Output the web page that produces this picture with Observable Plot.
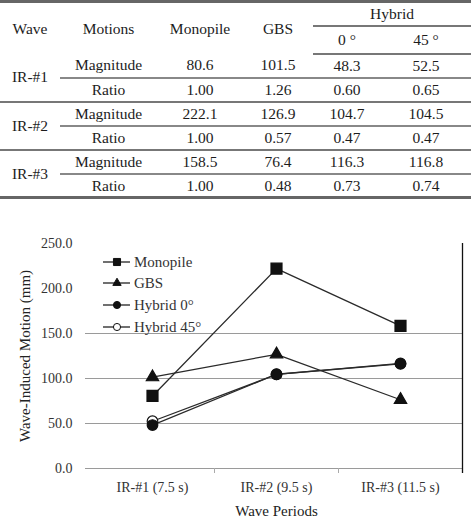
<!DOCTYPE html>
<html><head><meta charset="utf-8">
<script src="https://cdn.jsdelivr.net/npm/d3@7"></script>
<script src="https://cdn.jsdelivr.net/npm/@observablehq/plot@0.6"></script>
<style>
body{margin:0;background:#fff;width:471px;height:525px;position:relative;overflow:hidden}
#tbl{position:absolute;left:0;top:0}
table{border-collapse:collapse;table-layout:fixed;width:471px;font-family:"Liberation Serif",serif;font-size:15.5px;color:#1c1c1c}
td{padding:0;text-align:center;vertical-align:middle;line-height:1}
tr.h1 td{border-top:3px solid #666}
tr.hl td{border-bottom:2px solid #777}
td.hy{border-bottom:2px solid #777}
tr.mag td.v{border-bottom:2px solid #888}
tr.last td{border-bottom:3px solid #666}
#chart{position:absolute;left:0;top:225px}
#legend{position:absolute;left:103px;top:0;font-family:"Liberation Serif",serif;font-size:15px;color:#333}
#legend div{position:absolute;left:0;display:flex;align-items:center;white-space:nowrap;height:16px}
</style></head>
<body>
<div id="tbl"></div>
<div id="chart"></div>
<div id="legend"></div>
<script>
// ---- data ----
const waves = ["IR-#1", "IR-#2", "IR-#3"];
const periods = ["IR-#1 (7.5 s)", "IR-#2 (9.5 s)", "IR-#3 (11.5 s)"];
const motions = ["Magnitude", "Ratio"];
const headerCols = ["Wave", "Motions", "Monopile", "GBS"];
const hybridHeader = "Hybrid";
const hybridAngles = ["0 °", "45 °"];
const seriesNames = ["Monopile", "GBS", "Hybrid 0°", "Hybrid 45°"];
const monopileMag = [80.6, 222.1, 158.5];
const gbsMag = [101.5, 126.9, 76.4];
const hybrid0Mag = [48.3, 104.7, 116.3];
const hybrid45Mag = [52.5, 104.5, 116.8];
const monopileRatio = [1.00, 1.00, 1.00];
const gbsRatio = [1.26, 0.57, 0.48];
const hybrid0Ratio = [0.60, 0.47, 0.73];
const hybrid45Ratio = [0.65, 0.47, 0.74];
const yTicks = [0, 50, 100, 150, 200, 250];
const gridValues = [0, 50, 100, 150];
const xTitle = "Wave Periods";
const yTitle = "Wave-Induced Motion (mm)";

// ---- table ----
const mags = [monopileMag, gbsMag, hybrid0Mag, hybrid45Mag];
const ratios = [monopileRatio, gbsRatio, hybrid0Ratio, hybrid45Ratio];
let html = '<table><colgroup><col style="width:60px"><col style="width:97px"><col style="width:86px"><col style="width:70px"><col style="width:68px"><col style="width:90px"></colgroup>';
html += '<tr class="h1" style="height:24px">' + headerCols.map(h => `<td rowspan="2">${h}</td>`).join("") + `<td colspan="2" class="hy">${hybridHeader}</td></tr>`;
html += '<tr class="hl" style="height:28px">' + hybridAngles.map(a => `<td>${a}</td>`).join("") + '</tr>';
waves.forEach((w, i) => {
  const last = i === waves.length - 1;
  html += `<tr class="mag" style="height:24px"><td rowspan="2" style="border-bottom:${last ? 3 : 2}px solid ${last ? '#666' : '#777'}">${w}</td><td class="v">${motions[0]}</td>` + mags.map(a => `<td class="v">${a[i].toFixed(1)}</td>`).join("") + '</tr>';
  html += `<tr class="${last ? 'last' : 'hl'}" style="height:24px"><td>${motions[1]}</td>` + ratios.map(a => `<td>${a[i].toFixed(2)}</td>`).join("") + '</tr>';
});
html += '</table>';
document.getElementById("tbl").innerHTML = html;

// ---- chart ----
const data = seriesNames.flatMap((s, k) => mags[k].map((v, i) => ({series: s, period: periods[i], value: v})));
const symbolFor = {"Monopile": "square", "GBS": "triangle", "Hybrid 0°": "circle", "Hybrid 45°": "circle"};
const fillFor = {"Monopile": "#111", "GBS": "#111", "Hybrid 0°": "#111", "Hybrid 45°": "#fff"};
const rFor = {"Monopile": 6.2, "GBS": 4.6, "Hybrid 0°": 5.3, "Hybrid 45°": 5.3};
const drawOrder = ["Monopile", "GBS", "Hybrid 45°", "Hybrid 0°"];

const marks = [
  Plot.ruleY(gridValues, {stroke: "#9a9a9a", strokeWidth: 1.2, insetLeft: -5}),
  Plot.ruleX([periods[0], periods[1]], {dx: 62, y1: 0, y2: 0, insetBottom: -5, stroke: "#aaa"}),
  Plot.ruleX([periods[2]], {dx: 62, y1: 250, y2: 0, insetBottom: -5, stroke: "#111", strokeWidth: 1.3}),
  Plot.axisY({ticks: yTicks, tickSize: 0, tickPadding: 18, tickFormat: d => d.toFixed(1), label: null}),
  Plot.axisX({tickSize: 0, tickPadding: 14, label: null}),
  Plot.text([xTitle], {frameAnchor: "bottom", dy: 47, fontSize: 15, fill: "#222"}),
  Plot.text([yTitle], {frameAnchor: "left", dx: -65, rotate: -90, textAnchor: "middle", fontSize: 15, fill: "#222"}),
  Plot.line(data, {x: "period", y: "value", z: "series", stroke: "#2a2a2a", strokeWidth: 1.3})
];
drawOrder.forEach(s => {
  marks.push(Plot.dot(data.filter(d => d.series === s), {x: "period", y: "value", symbol: () => symbolFor[s], fill: fillFor[s], stroke: "#111", strokeWidth: 1.2, r: rFor[s]}));
});

const chart = Plot.plot({
  width: 471, height: 300,
  marginLeft: 90, marginRight: 9, marginTop: 18, marginBottom: 57,
  style: {fontFamily: "Liberation Serif, serif", fontSize: "14px", color: "#333", background: "#fff"},
  x: {type: "point", domain: periods, padding: 0.5},
  y: {domain: [0, 250]},
  symbol: {type: "identity"},
  marks
});
document.getElementById("chart").appendChild(chart);

// ---- legend ----
const legend = document.getElementById("legend");
const legendTop = [262, 283, 305, 327];
seriesNames.forEach((s, k) => {
  const row = document.createElement("div");
  row.style.top = (legendTop[k] - 8) + "px";
  const svg = d3.create("svg").attr("width", 30).attr("height", 16);
  svg.append("line").attr("x1", 0).attr("x2", 27).attr("y1", 8).attr("y2", 8).attr("stroke", "#222").attr("stroke-width", 1.3);
  const sym = {square: d3.symbolSquare, triangle: d3.symbolTriangle, circle: d3.symbolCircle}[symbolFor[s]];
  const size = {square: 50, triangle: 30, circle: 40}[symbolFor[s]];
  svg.append("path").attr("d", d3.symbol(sym, size)()).attr("transform", "translate(14,8)").attr("fill", fillFor[s]).attr("stroke", "#111").attr("stroke-width", 1);
  row.appendChild(svg.node());
  const t = document.createElement("span");
  t.textContent = s;
  t.style.marginLeft = "1px";
  row.appendChild(t);
  legend.appendChild(row);
});
</script>
</body></html>
